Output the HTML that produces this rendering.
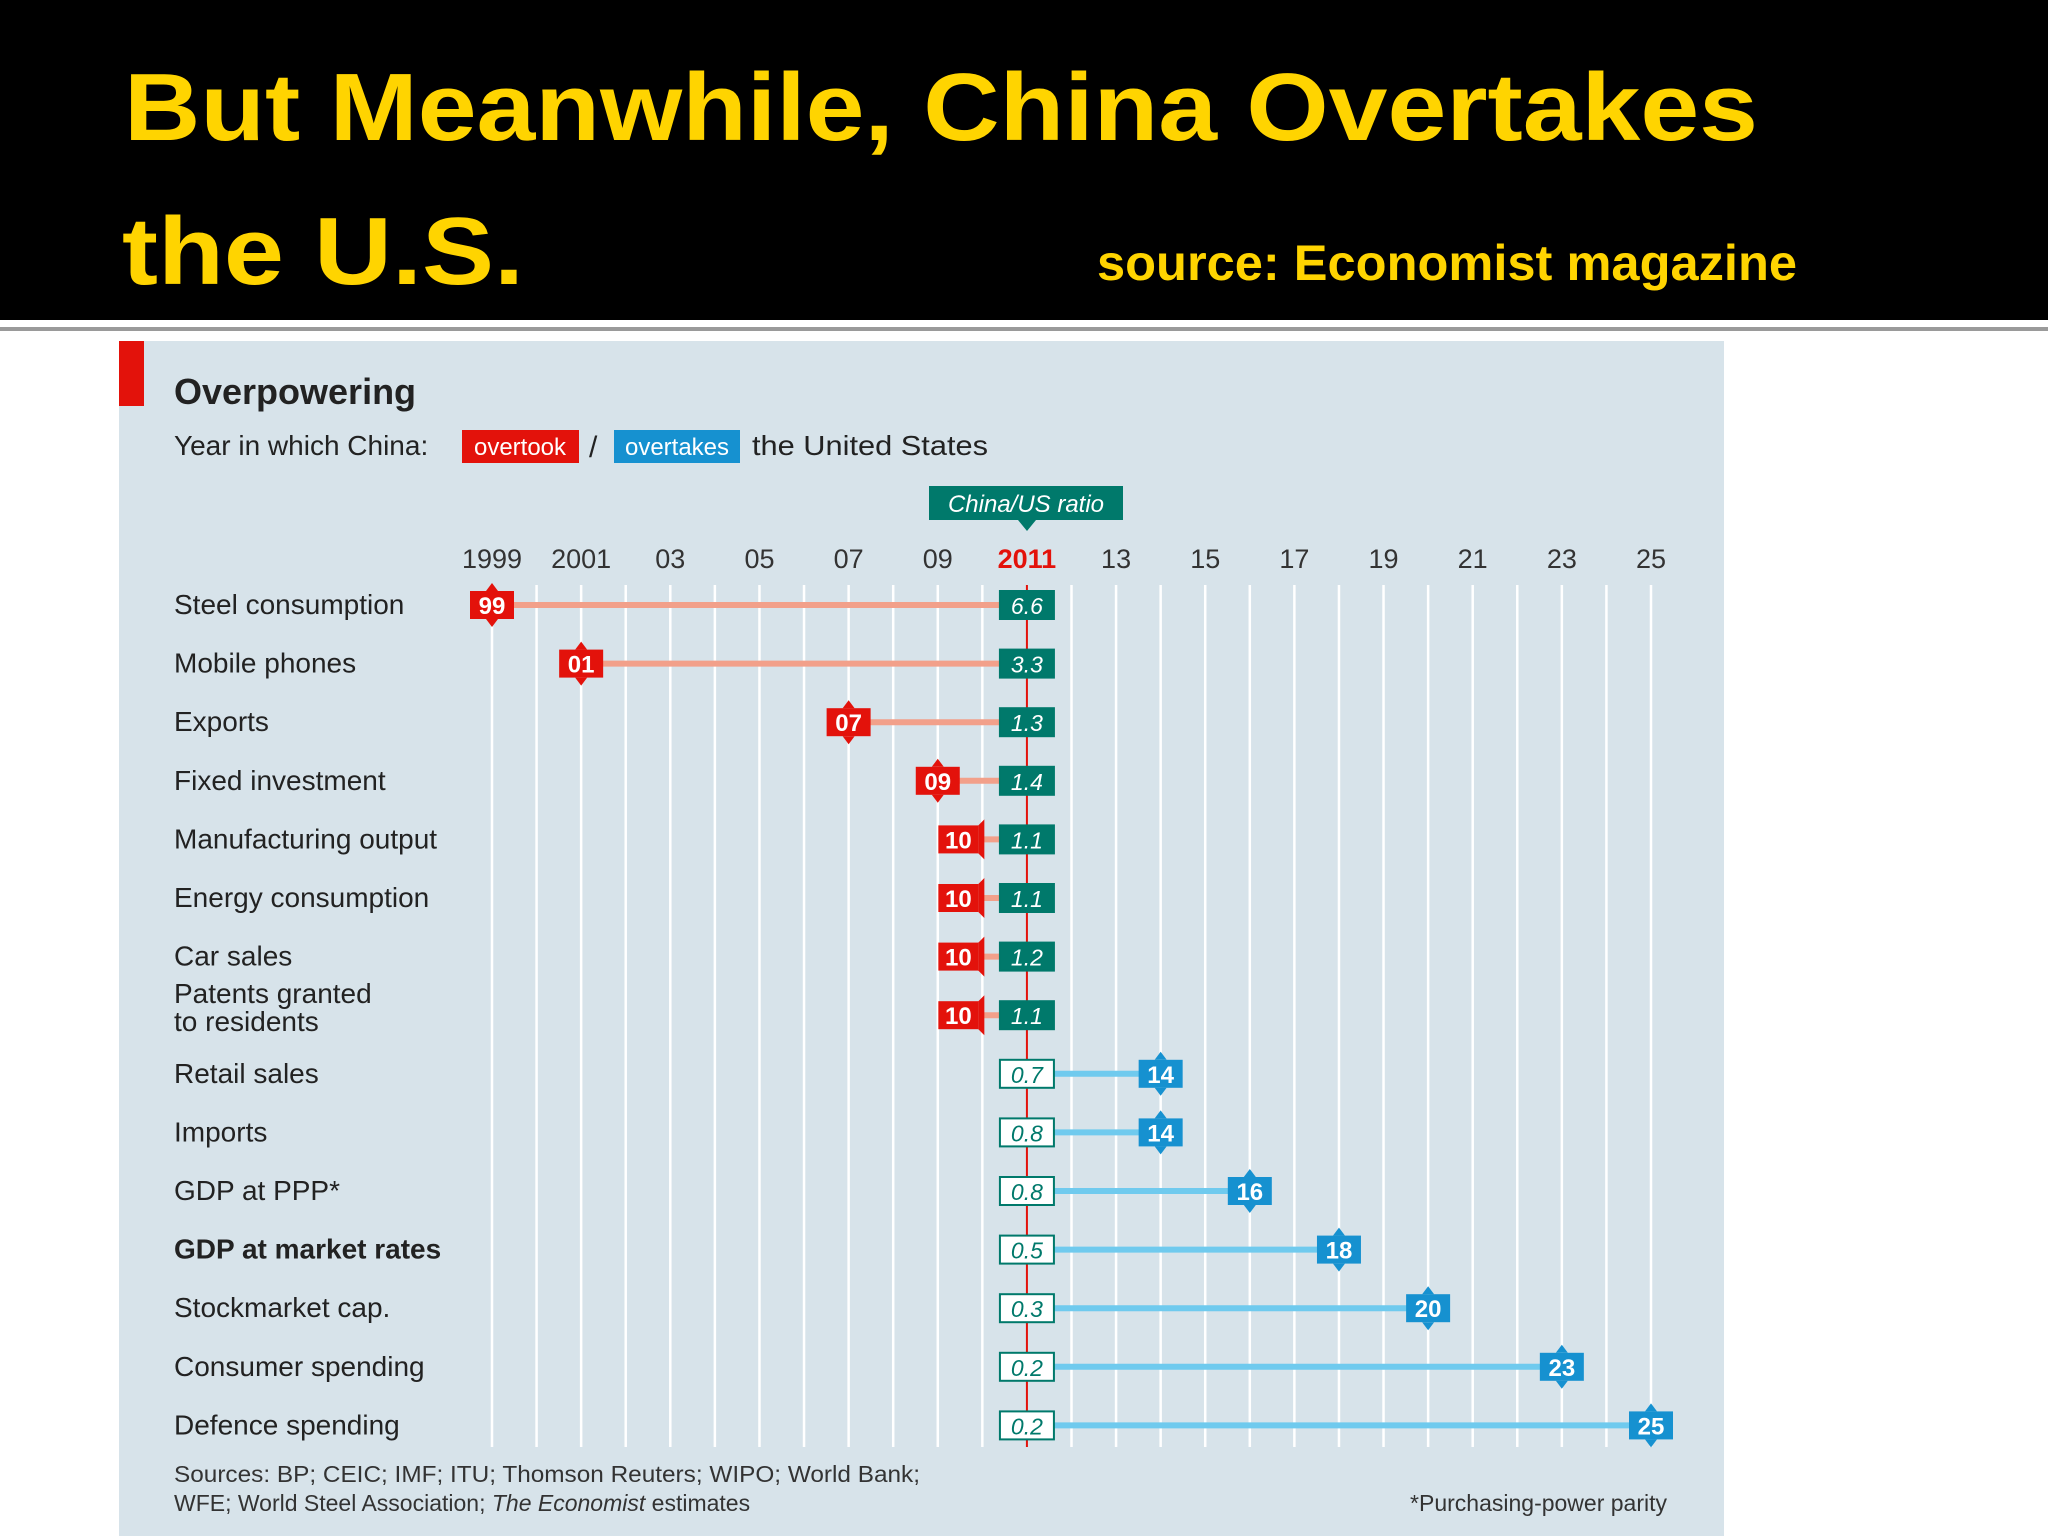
<!DOCTYPE html>
<html><head><meta charset="utf-8"><style>
html,body{margin:0;padding:0;background:#fff;}
svg{display:block;font-family:"Liberation Sans",sans-serif;}
</style></head><body>
<svg id="c" width="2048" height="1536" viewBox="0 0 2048 1536" xmlns="http://www.w3.org/2000/svg">
<rect x="0" y="0" width="2048" height="320" fill="#000"/>
<rect x="0" y="321" width="2048" height="4" fill="#fff"/>
<rect x="0" y="327" width="2048" height="4" fill="#9a9a9a"/>
<text x="124" y="140" font-size="96" font-weight="bold" fill="#ffd400" textLength="1634" lengthAdjust="spacingAndGlyphs">But Meanwhile, China Overtakes</text>
<text x="122" y="284" font-size="96" font-weight="bold" fill="#ffd400" textLength="402" lengthAdjust="spacingAndGlyphs">the U.S.</text>
<text x="1097" y="280" font-size="50" font-weight="bold" fill="#ffd400" textLength="700" lengthAdjust="spacingAndGlyphs">source: Economist magazine</text>
<rect x="119" y="341" width="1605" height="1195" fill="#d7e3ea"/>
<rect x="119" y="341" width="25" height="65" fill="#e3120b"/>
<text x="174" y="404" font-size="36" font-weight="bold" fill="#222">Overpowering</text>
<text x="174" y="455" font-size="28" fill="#222">Year in which China:</text>
<rect x="462" y="430" width="117" height="33" fill="#e3120b"/>
<text x="520" y="455" font-size="24" fill="#fff" text-anchor="middle">overtook</text>
<text x="589" y="457" font-size="30" fill="#222">/</text>
<rect x="614" y="430" width="126" height="33" fill="#1691d0"/>
<text x="677" y="455" font-size="24" fill="#fff" text-anchor="middle">overtakes</text>
<text x="752" y="455" font-size="28" fill="#222" textLength="236" lengthAdjust="spacingAndGlyphs">the United States</text>
<rect x="929" y="486" width="194" height="34" fill="#00796b"/>
<polygon points="1018,520 1036,520 1027,531" fill="#00796b"/>
<text x="1026" y="512" font-size="24" font-style="italic" fill="#fff" text-anchor="middle">China/US ratio</text>
<g id="grid"></g><g id="rows"></g>
<text x="174" y="1482" font-size="23" fill="#333" textLength="746" lengthAdjust="spacingAndGlyphs">Sources: BP; CEIC; IMF; ITU; Thomson Reuters; WIPO; World Bank;</text>
<text x="174" y="1511" font-size="23" fill="#333">WFE; World Steel Association; <tspan font-style="italic">The Economist</tspan> estimates</text>
<text x="1667" y="1511" font-size="23" fill="#333" text-anchor="end">*Purchasing-power parity</text>
</svg>
<script>
const categories=["Steel consumption","Mobile phones","Exports","Fixed investment","Manufacturing output","Energy consumption","Car sales","Patents granted|to residents","Retail sales","Imports","GDP at PPP*","GDP at market rates","Stockmarket cap.","Consumer spending","Defence spending"];
const overtakeYears=[1999,2001,2007,2009,2010,2010,2010,2010,2014,2014,2016,2018,2020,2023,2025];
const ratios=["6.6","3.3","1.3","1.4","1.1","1.1","1.2","1.1","0.7","0.8","0.8","0.5","0.3","0.2","0.2"];
const tickYears=[1999,2001,2003,2005,2007,2009,2011,2013,2015,2017,2019,2021,2023,2025];
const tickLabels=["1999","2001","03","05","07","09","2011","13","15","17","19","21","23","25"];
const NS="http://www.w3.org/2000/svg";
const x=y=>492+(y-1999)*(1651-492)/26;
const rowY=i=>605+i*58.6;
const refYear=2011;
function mk(t,a,p){const e=document.createElementNS(NS,t);for(const k in a)e.setAttribute(k,a[k]);p.appendChild(e);return e;}
const grid=document.getElementById('grid'),rows=document.getElementById('rows');
for(let yr=1999;yr<=2025;yr++){
  const l=mk('line',{x1:x(yr),x2:x(yr),y1:585,y2:1447,stroke:yr===refYear?'#e3120b':'#fff','stroke-width':yr===refYear?2:2.5},grid);
  
  
}
tickYears.forEach((yr,i)=>{
  const t=mk('text',{x:x(yr),y:568,'font-size':27,'text-anchor':'middle',fill:yr===refYear?'#e3120b':'#333','font-weight':yr===refYear?'bold':'normal'},grid);
  t.textContent=tickLabels[i];
  
  
});
categories.forEach((c,i)=>{
  const cy=rowY(i);
  const parts=c.split('|');
  const lab=mk('text',{x:174,y:parts.length>1?cy-12:cy+9,'font-size':28,fill:'#222','font-weight':i===11?'bold':'normal'},rows);
  
  
  parts.forEach((p,j)=>{const ts=mk('tspan',{x:174,dy:j?28:0},lab);ts.textContent=p;});
  const yr=overtakeYears[i],past=yr<=refYear;
  const ln=mk('line',{x1:x(yr),x2:x(refYear),y1:cy,y2:cy,stroke:past?'#f2a08a':'#6fcaee','stroke-width':6},rows);
  
  
  const rb=mk('rect',{x:x(refYear)-27,y:cy-14,width:54,height:28,fill:past?'#00796b':'#fff',stroke:'#00796b','stroke-width':2},rows);
  
  
  const rt=mk('text',{x:x(refYear),y:cy+9,'font-size':23,'font-style':'italic','text-anchor':'middle',fill:past?'#fff':'#00796b'},rows);
  rt.textContent=ratios[i];
  
  
  const g=mk('g',{},rows);
  
  
  const col=past?'#e3120b':'#1691d0';
  let tx=x(yr);
  if(yr===2010){
    const r=x(yr);
    mk('rect',{x:r-44,y:cy-14,width:40,height:28,fill:col},g);
    mk('polygon',{points:`${r-4},${cy-14} ${r+2},${cy-20} ${r+2},${cy+20} ${r-4},${cy+14}`,fill:col},g);
    tx=r-24;
  }else{
    mk('rect',{x:tx-22,y:cy-14,width:44,height:28,fill:col},g);
    mk('polygon',{points:`${tx-6},${cy-14} ${tx},${cy-22} ${tx+6},${cy-14}`,fill:col},g);
    mk('polygon',{points:`${tx-6},${cy+14} ${tx},${cy+22} ${tx+6},${cy+14}`,fill:col},g);
  }
  const mt=mk('text',{x:tx,y:cy+9,'font-size':24,'font-weight':'bold','text-anchor':'middle',fill:'#fff'},g);
  mt.textContent=String(yr).slice(2);
});
</script>
</body></html>
